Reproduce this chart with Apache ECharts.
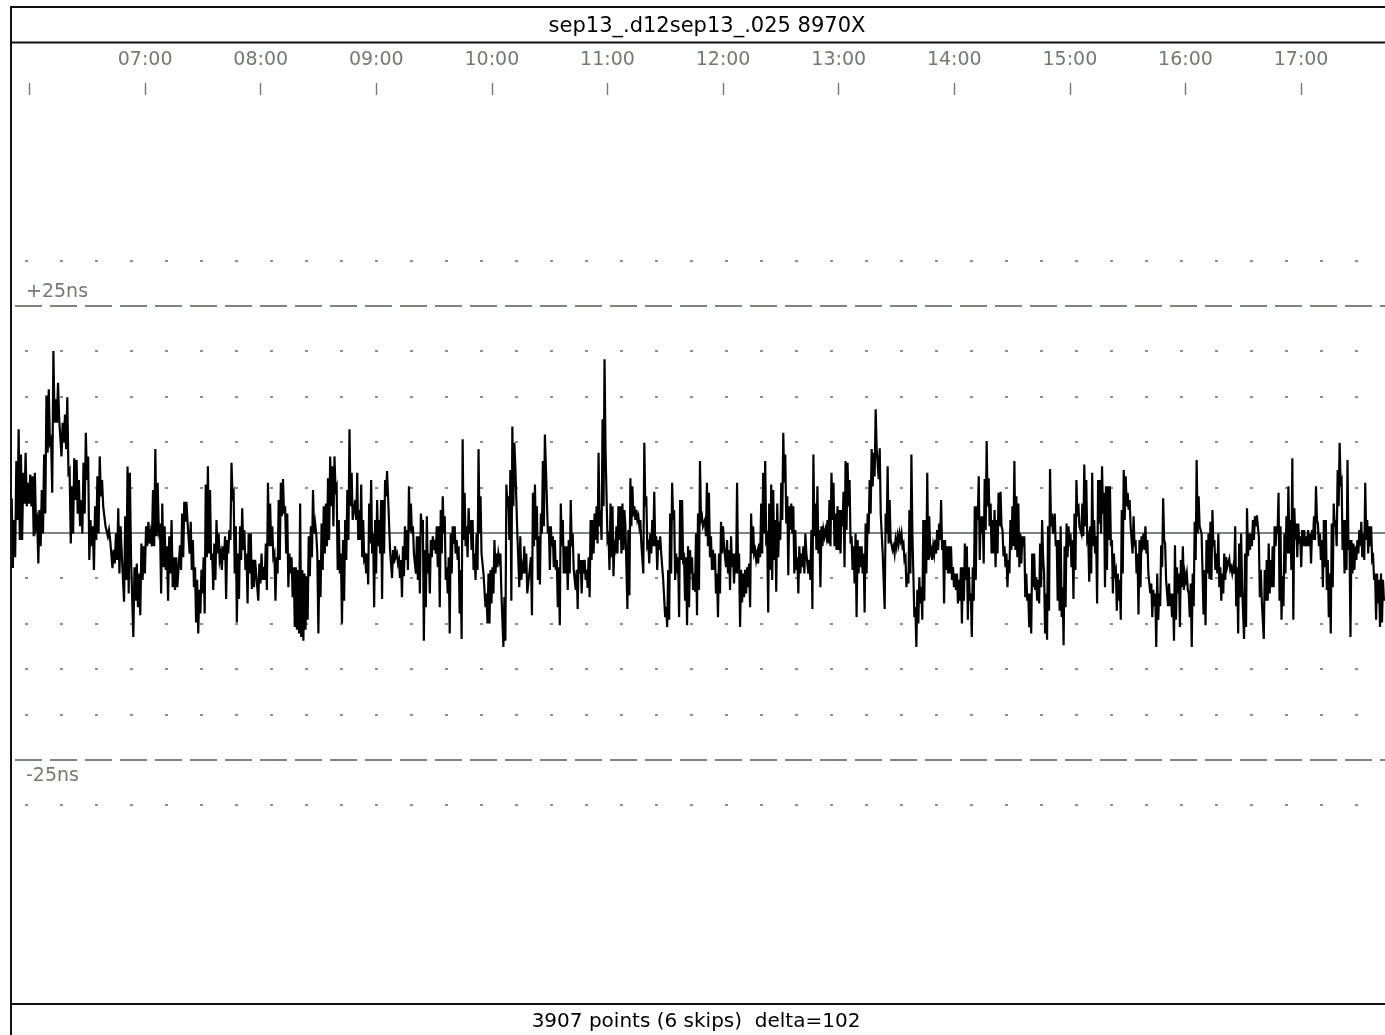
<!DOCTYPE html>
<html>
<head>
<meta charset="utf-8">
<script src="https://cdn.jsdelivr.net/npm/echarts@6/dist/echarts.min.js"></script>
<style>html,body{margin:0;padding:0;background:#fff;}#c{width:1385px;height:1035px;}</style>
</head>
<body>
<div id="c"></div>
<script>
// ---- data (ns): pairs of (high, low) per stroke ----
const titleText = 'sep13_.d12sep13_.025 8970X';
const footerText = '3907 points (6 skips)  delta=102';
const tickHours = [6,7,8,9,10,11,12,13,14,15,16,17];
const labelHours = [7,8,9,10,11,12,13,14,15,16,17];
const tickLabels = ['07:00','08:00','09:00','10:00','11:00','12:00','13:00','14:00','15:00','16:00','17:00'];
const xRange = [5.84, 17.726];
const yRange = [-51.8, 53.93];
const limitLines = [25, -25];
const limitLabels = ['+25ns', '-25ns'];
const gridRows = [30, 20, 15, 10, 5, -5, -10, -15, -20, -30];
const segTimes = [[5.846,7.279],[7.302,8.796],[8.818,10.306],[10.338,11.826],[11.843,13.346],[13.355,14.854],[14.869,16.361],[16.379,17.717]];

const seg1 = [3.8,-3.9, 1.4,-2.7, 7.9,1.4, 11.4,-0.8, 8.6,-0.8, 6.6,3.2, 8.8,2.9, 5.5,3.2, 6.4,2.9, 6.2,-0.4,
6.6,0.7, 1.4,-3.4, 2.5,-1.5, 4.7,-0.1, 8.6,2.1, 15.1,8.8, 15.8,9.9, 10.3,4.4, 20.0,12.1, 14.7,12.1,
16.5,12.5, 12.5,8.4, 12.1,9.9, 13.0,9.2, 14.9,6.6, 6.9,-1.2, 5.1,-0.1, 8.2,3.6, 8.0,2.1, 5.8,0.7,
3.6,-0.1, 7.7,2.1, 11.0,5.8, 8.4,-3.0, 1.4,-1.5, 0.7,-4.1, 2.9,-0.8, 6.2,-0.1, 8.4,4.0, 5.8,2.9,
2.9,0.7, 0.7,-0.4, 0.3,-0.8, -0.8,-3.9, -1.9,-3.4, -0.1,-3.0, 2.7,-4.5, 0.7,-2.3, -2.3,-7.6, 1.8,-5.2,
7.3,-6.7, 6.6,-2.7, -2.7,-11.5, -3.8,-7.5, -3.4,-8.2, -4.5,-9.1, -1.2,-5.2, -1.5,-4.5, 0.7,-1.5, 1.2,-1.2,
-0.1,-1.5, 4.7,-1.5, 9.2,-0.4, 5.5,0.3, 1.0,-6.7, 3.2,-3.8, 0.7,-4.1, -1.5,-7.5, -0.4,-4.5, 1.4,-6.0,
-2.7,-6.3, -2.7,-6.0];

const seg2 = [-1.4,-4.1, 2.1,-2.7, 3.4,1.2, 3.4,1.2, 1.2,-2.3, 1.2,-4.1, -0.8,-6.0, -3.8,-9.9, -5.2,-11.1, -6.3,-8.9,
-4.1,-6.7, -2.7,-8.9, 5.3,-2.7, 7.3,-2.3, 4.7,-3.0, -2.3,-6.3, -1.2,-5.2, 1.4,-2.3, -0.1,-3.0, -2.3,-4.1,
-1.5,-3.0, -0.4,-7.3, -0.8,-2.3, 0.3,-0.8, 7.7,4.0, 4.4,-4.5, 0.7,-9.9, -2.3,-7.3, 0.7,-3.0, 2.7,-1.9,
0.3,-4.1, -2.3,-7.8, -0.1,-4.5, -0.1,-6.2, -3.0,-6.0, -3.0,-4.5, -4.5,-7.5, -3.4,-5.6, -2.3,-5.2, -3.8,-5.2,
-1.2,-6.3, 5.5,-1.5, 3.2,-1.5, 0.7,-2.7, -2.3,-7.5, -2.7,-4.5, 3.6,-3.0, 5.5,1.8, 5.9,2.1, 2.9,-2.3,
2.1,-6.0, -2.3,-4.5, -2.7,-7.1, -3.8,-10.4, -3.8,-10.7, -4.1,-11.1, 3.2,-11.5, -4.1,-11.9, -4.5,-10.7, -4.8,-9.6,
-0.4,-4.8, 0.7,-2.7, 4.7,-0.1, 1.0,-0.1, -2.3,-11.1, -3.0,-7.1, 1.0,-4.1, 2.9,-2.3, 3.2,-1.5, 6.0,-0.8,
8.4,2.9, 7.3,0.7, 8.4,4.7, 5.1,-4.1, 1.4,-4.5, -2.3,-10.0, -0.8,-7.5, 1.4,-3.0, 4.7,-0.8, 11.4,2.9,
6.6,1.4];

const seg3 = [3.6,1.4, 6.6,-0.8, 2.5,-0.8, 5.3,-2.7, 1.4,-3.0, -2.7,-4.5, -2.3,-5.7, 3.2,-1.2, 5.8,-2.3, -0.1,-8.2,
1.4,-4.5, 3.6,-1.5, 1.4,-2.3, 3.6,-7.3, 3.6,-2.3, 5.8,4.0, 6.8,4.0, 4.0,-1.9, -1.9,-5.0, -1.9,-3.4,
-1.5,-2.6, -2.3,-3.4, -3.0,-5.0, -3.0,-7.1, -1.5,-4.8, 0.7,-3.0, 0.3,-4.1, 5.1,0.1, 3.2,-0.1, 0.7,-2.3,
-2.3,-4.5, -0.4,-5.2, -0.4,-6.7, 2.1,0.7, 1.4,-11.9, -1.9,-8.2, 1.8,-4.5, -2.3,-6.7, -0.8,-2.7, -0.4,-1.9,
-0.8,-2.3, 0.7,-3.8, 0.7,-8.2, 2.5,-2.3, 4.0,-0.1, 1.8,-5.2, -3.8,-6.7, -2.7,-11.1, -0.1,-4.5, 0.7,-1.2,
0.7,-2.3, -0.8,-3.0, -1.5,-8.9, -4.1,-11.7, 10.3,-0.8, 4.4,-1.5, 0.7,-2.7, 2.7,-0.1, 1.4,-1.9, 1.4,-4.1,
-2.3,-5.2, -0.1,-4.1, 9.2,-0.1, 4.0,-2.3, -2.3,-4.5, -4.5,-8.2, -6.7,-10.0, -4.5,-10.0, -4.1,-7.8, -3.8,-6.7,
-0.8,-4.5, -2.3,-3.8, -2.3,-3.0, -2.3,-6.7, -6.7,-12.6, -7.1,-11.9, 5.3,2.9, 4.0,-0.8, 6.9,-7.5, 11.7,2.9,
9.9,7.3, 7.3,-0.1, -0.1,-6.0, -0.4,-5.2, -3.8,-4.5, -1.5,-4.5, -2.3,-6.7];

const seg4 = [-2.7,-9.1, 4.4,-1.5, 5.3,-0.8, 2.9,-5.2, -0.4,-5.7, 2.1,-0.1, 7.9,0.7, 10.8,7.3, 7.3,-0.1, 0.7,-4.1,
0.7,-1.5, -0.4,-3.8, -0.8,-4.1, -3.0,-8.2, -3.8,-10.2, 3.2,-1.5, 1.4,-4.5, -1.5,-4.5, -1.5,-6.3, -0.8,-4.5,
3.6,-1.5, -0.1,-4.1, -4.1,-6.3, -4.1,-8.4, -2.3,-4.5, -3.0,-6.7, -3.0,-4.5, -3.0,-5.2, -4.1,-6.1, -2.7,-7.1,
1.4,-3.0, 1.4,-2.3, 2.1,-0.8, 2.9,-1.2, 8.8,0.7, 2.5,-0.8, 12.5,2.9, 19.1,9.1, 9.1,-0.8, -0.4,-4.1,
3.2,-2.7, 2.9,-4.8, -0.8,-1.5, 0.7,-2.3, 2.9,-0.8, 2.9,-2.3, 3.2,-1.9, 2.5,0.7, 0.7,-8.4, 0.3,-6.9,
6.0,0.7, 5.1,1.8, 2.9,1.4, 2.5,1.4, 1.8,0.7, 1.4,-1.2, -1.2,-4.5, 9.9,2.9, 4.0,-1.5, -1.2,-3.4,
-0.1,-2.3, 1.4,-1.5, 4.5,-1.5, -0.4,-4.1, -0.8,-1.9, -0.4,-2.3, -2.3,-5.2, -5.2,-9.3, -8.2,-10.4, -4.1,-9.6,
2.1,-4.5, 5.5,1.4, 2.5,-5.2, -2.3,-4.5, -2.7,-9.3, 3.6,-3.0, 3.6,-3.0, -2.7,-7.5, -2.7,-10.2, -1.5,-8.2,
-1.9,-4.5, -2.7,-6.3, -4.5,-6.5, -0.1,-9.1, 2.1,-6.3, 7.9,1.4, 1.8,0.7];

const seg5 = [1.4,-0.4, 5.5,-1.5, 4.4,-2.7, -0.4,-4.1, -1.9,-4.1, -2.3,-6.7, -4.5,-9.3, -2.3,-6.7, 1.2,-2.3, 0.7,-1.5,
-1.5,-3.8, -0.8,-4.5, -1.9,-6.3, -0.4,-3.8, -2.3,-5.6, -2.3,-4.5, 5.5,-4.5, -2.3,-10.4, -4.1,-7.7, -4.5,-7.1,
-4.1,-6.7, -3.8,-6.0, -3.4,-8.2, 2.1,-2.3, 0.7,-2.3, -1.9,-3.0, -2.3,-3.4, -1.2,-2.7, 3.2,-2.3, 6.6,-0.1,
7.9,-0.8, -0.4,-8.8, 3.2,-4.1, 5.3,-5.2, 4.7,-3.0, 1.4,-6.5, 3.2,-2.7, 1.2,-0.8, 5.5,1.4, 11.0,5.5,
8.6,1.0, 4.0,-4.7, 2.9,0.3, 3.2,-0.1, 2.9,-4.5, 0.3,-4.1, -2.7,-6.7, -1.5,-4.5, -2.3,-3.8, -1.5,-4.5,
-0.1,-2.3, -2.3,-4.5, -3.0,-5.2, 0.3,-8.4, 8.6,-0.4, 3.2,-1.9, 5.1,-2.3, 0.3,-6.0, 0.7,-1.5, 0.3,-0.4,
0.3,-0.4, 1.4,-1.2, 3.6,-1.5, 6.6,1.4, 5.5,-1.5, 2.1,-1.9, 2.9,-1.9, 2.5,-2.3, 2.5,0.7, 4.5,-3.8,
7.9,0.3, 7.7,2.9, 5.8,-1.2, -0.4,-4.1, -1.5,-5.6, -0.1,-9.3, -0.8,-4.5, -1.5,-3.8, -1.5,-4.5, -2.3,-8.8,
1.0,-4.5, 2.1,-0.1, 5.8,2.1, 9.2,5.1, 8.8,6.2, 13.6,9.2, 9.2,5.9];

const seg6 = [9.3,2.1, 2.1,-2.3, -2.3,-8.4, 2.1,-0.1, 7.3,-1.2, 3.6,-0.8, -0.8,-1.9, -1.5,-2.3, -0.8,-1.5, -0.4,-1.2,
-0.1,-0.8, -0.1,-1.5, -1.2,-3.0, -2.7,-6.0, -4.5,-5.6, 2.5,-4.5, 8.6,-0.1, -0.1,-9.3, -8.2,-12.6, -6.3,-10.0,
-4.9,-7.8, -6.0,-9.6, 1.4,-7.5, 1.4,-4.5, 6.6,-3.0, 1.8,-2.3, -1.9,-3.0, -1.5,-2.3, -0.8,-2.3, 0.3,-1.9,
1.0,-0.8, 3.6,-1.9, -0.8,-7.8, -0.8,-4.1, -1.5,-4.5, -1.5,-4.5, -1.5,-5.2, -3.8,-6.0, -4.5,-6.3, -4.5,-7.8,
-5.2,-7.5, -3.8,-10.0, -3.8,-7.5, -1.2,-5.2, -1.5,-9.6, -3.8,-7.5, -6.7,-11.5, -3.8,-7.5, 2.9,-5.2, 2.9,1.4,
6.2,-3.0, 1.8,-0.1, 1.8,-3.4, 5.9,0.3, 10.1,2.9, 6.0,0.7, 3.2,-2.3, 1.4,-2.3, 2.5,-3.8, 1.4,-2.3,
4.4,0.7, 4.5,0.7, 0.3,-2.6, -1.5,-3.8, -2.3,-6.0, -3.0,-4.5, 1.4,-1.9, 2.9,-1.5, 7.9,-1.9, 4.0,-2.7,
3.2,-3.8, -0.1,-3.4, -0.4,-1.5, -0.4,-7.1, -4.5,-7.5, -6.7,-10.4, -6.7,-11.1, -2.3,-6.0, -2.3,-6.3, -4.9,-7.5,
-5.2,-7.8, -1.2,-6.0, 1.4,-2.7, -4.5,-11.1, -6.7,-11.8, 0.7,-8.6, 7.0,0.7, 2.1,-0.1];

const seg7 = [2.1,-1.5, -0.8,-7.5, -0.8,-8.6, 0.7,-9.3, -6.0,-12.4, -1.5,-8.2, 1.0,-2.7, 0.7,-1.5, -0.1,-3.8, -0.8,-7.3,
2.1,-4.1, 5.8,1.8, 3.2,0.7, 0.7,-0.1, 3.2,-0.4, 7.5,0.7, 5.8,-0.8, -0.4,-5.4, 0.7,-4.5, 6.6,-1.5,
1.4,-2.3, -0.4,-7.8, 5.8,1.0, 5.8,-0.1, 7.3,2.1, 4.4,-6.0, 5.1,-4.1, 5.1,-0.8, 5.1,-1.5, -0.8,-6.7,
-2.3,-4.5, -4.1,-8.6, -4.5,-7.5, -5.2,-9.6, 2.5,-4.5, 6.9,1.4, 6.2,2.9, 4.4,2.5, 3.6,0.7, 0.7,-2.3,
1.8,-1.5, -0.8,-4.5, -2.3,-9.0, -0.8,-6.0, -0.4,-1.2, -0.1,-1.9, 0.7,-2.3, -0.8,-4.5, -4.5,-6.7, -5.6,-9.3,
-6.3,-8.1, -6.7,-12.6, -4.5,-9.6, -6.7,-8.1, -1.4,-3.8, 3.8,-0.8, -1.2,-5.2, -5.2,-8.1, -5.6,-8.1, -6.7,-9.3,
-6.7,-11.9, -1.4,-9.6, -3.8,-6.7, -4.5,-10.4, -3.0,-6.0, -1.5,-6.3, -4.5,-5.2, -4.5,-6.3, -6.7,-9.3, -5.6,-12.6,
-4.5,-8.1, 1.2,-3.0, 8.0,-0.1, 4.0,0.7, 0.7,-0.1, -0.1,-9.0, -4.1,-10.2, -0.8,-4.5, -0.1,-5.1, 1.2,-5.2,
2.5,-1.5, -0.8,-4.1, -2.3,-4.5, -0.1,-6.0, -3.8,-7.5, -4.5,-6.7, -2.3,-5.2, -2.7,-3.8];

const seg8 = [-2.9,-4.1, -3.8,-4.5, -3.8,-4.5, 0.7,-8.1, -3.8,-11.1, -1.2,-7.1, -0.1,-6.0, -6.0,-11.7, -2.3,-10.4, 2.7,-2.6,
-0.1,-1.9, -0.1,-1.5, 1.4,-0.8, 1.8,0.7, 1.9,0.7, -0.4,-7.1, -4.1,-7.5, -7.5,-11.7, -4.1,-7.5, -3.0,-7.5,
-1.2,-6.7, -3.0,-6.0, -1.5,-6.0, 0.7,-1.5, 0.7,-0.1, 4.4,-7.5, 0.7,-9.6, -4.8,-8.1, -0.1,-4.5, 1.8,-2.3,
5.1,-2.3, 1.4,-4.1, 8.2,-9.6, 2.7,-0.8, 1.0,-2.7, 1.0,-1.2, -0.4,-3.8, 0.3,-1.5, 0.3,-1.5, -0.4,-1.5,
0.3,-1.5, -0.1,-3.4, 0.3,-0.8, 1.8,-0.8, 5.1,1.4, 1.0,-1.5, -0.1,-3.0, -0.8,-6.0, 1.4,-3.8, 1.4,-6.3,
-3.0,-9.3, -4.5,-11.1, 1.0,-6.0, 3.2,0.7, 1.4,-1.5, 6.9,2.9, 9.9,5.5, 5.8,-1.9, 1.4,-4.5, 1.4,-4.1,
8.0,-1.9, -0.8,-11.5, -0.8,-4.5, -1.2,-4.1, -1.5,-3.0, -0.8,-2.3, 0.3,-1.5, 1.2,-2.7, -0.1,-3.0, 5.5,-0.8,
1.4,-2.3, 0.7,-1.5, 0.7,-3.0, -2.7,-5.2, -4.5,-9.6, -4.5,-7.8, -5.2,-10.4, -4.5,-9.9, -5.2,-7.5];

const segments = [seg1, seg2, seg3, seg4, seg5, seg6, seg7, seg8];

// sample times: regular sampling inside each read segment
const series = [];
segments.forEach((vals, k) => {
  const t0 = segTimes[k][0], t1 = segTimes[k][1], n = vals.length;
  vals.forEach((v, i) => series.push([t0 + (t1 - t0) * i / (n - 1), v]));
});

const GREEN = '#6f7c6f';
const FONT = 'DejaVu Sans';

const chart = echarts.init(document.getElementById('c'), null, {renderer: 'canvas'});
chart.setOption({
  animation: false,
  backgroundColor: '#ffffff',
  grid: [
    {left: 11, top: 43, width: 1374, height: 960, containLabel: false},
    {left: 11, top: 83, width: 1374, height: 12, containLabel: false}
  ],
  xAxis: [
    {gridIndex: 0, type: 'value', min: xRange[0], max: xRange[1], show: false},
    {gridIndex: 1, type: 'value', min: xRange[0], max: xRange[1], position: 'top',
     axisLine: {show: false, onZero: false}, splitLine: {show: false},
     axisTick: {show: true, inside: true, length: 12, customValues: tickHours,
                lineStyle: {color: GREEN, width: 1.4}},
     axisLabel: {show: true, customValues: labelHours, margin: 13,
                 color: GREEN, fontFamily: FONT, fontSize: 19,
                 formatter: v => tickLabels[labelHours.indexOf(Math.round(v))] || ''}}
  ],
  yAxis: [
    {gridIndex: 0, type: 'value', min: yRange[0], max: yRange[1], show: false},
    {gridIndex: 1, type: 'value', min: 0, max: 1, show: false}
  ],
  graphic: [
    {type: 'line', shape: {x1: 11, y1: 7, x2: 1385, y2: 7}, style: {stroke: '#111', lineWidth: 2}, z: 100},
    {type: 'line', shape: {x1: 11, y1: 42.5, x2: 1385, y2: 42.5}, style: {stroke: '#111', lineWidth: 2}, z: 100},
    {type: 'line', shape: {x1: 11, y1: 1004, x2: 1385, y2: 1004}, style: {stroke: '#111', lineWidth: 2}, z: 100},
    {type: 'line', shape: {x1: 11, y1: 6, x2: 11, y2: 1035}, style: {stroke: '#111', lineWidth: 2}, z: 100},
    {type: 'text', x: 707, y: 27, style: {text: titleText, fill: '#000', font: '21px "DejaVu Sans"', textAlign: 'center', textVerticalAlign: 'middle'}, z: 100},
    {type: 'text', x: 696, y: 1022, style: {text: footerText, fill: '#000', font: '20px "DejaVu Sans"', textAlign: 'center', textVerticalAlign: 'middle'}, z: 100}
  ],
  series: [
    {
      type: 'line', xAxisIndex: 0, yAxisIndex: 0, data: [], z: 1, silent: true,
      markLine: {
        silent: true, symbol: 'none', animation: false,
        label: {show: false},
        lineStyle: {color: '#5f6f5f', width: 1.6, type: [3, 32], dashOffset: 21},
        data: gridRows.map(v => ({yAxis: v}))
      }
    },
    {
      type: 'line', xAxisIndex: 0, yAxisIndex: 0, data: [], z: 2, silent: true,
      markLine: {
        silent: true, symbol: 'none', animation: false,
        lineStyle: {color: '#7a877a', width: 1.8, type: [27, 8], dashOffset: 31},
        data: limitLines.map((v, i) => ({
          yAxis: v,
          label: {show: true, formatter: limitLabels[i], color: GREEN, fontFamily: FONT, fontSize: 19,
                  position: v > 0 ? 'insideStartTop' : 'insideStartBottom', distance: v > 0 ? [15, 4] : [15, 7]}
        }))
      }
    },
    {
      type: 'line', xAxisIndex: 0, yAxisIndex: 0, data: series, z: 5,
      showSymbol: false, symbol: 'none', sampling: false, silent: true,
      lineStyle: {color: '#000', width: 2.2, join: 'miter'}
    },
    {
      type: 'line', xAxisIndex: 0, yAxisIndex: 0, data: [], z: 6, silent: true,
      markLine: {
        silent: true, symbol: 'none', animation: false, label: {show: false},
        lineStyle: {color: '#4f5f4f', width: 1.5, type: 'solid'},
        data: [{yAxis: 0}]
      }
    }
  ]
});
</script>
</body>
</html>
